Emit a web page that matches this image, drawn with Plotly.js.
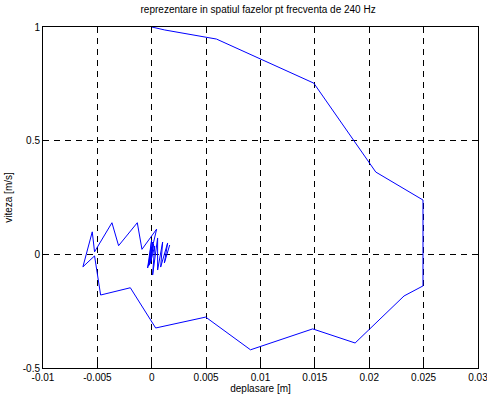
<!DOCTYPE html>
<html>
<head>
<script src="https://cdn.plot.ly/plotly-3.0.1.min.js"></script>
<style>html,body{margin:0;padding:0;background:#fff;}#chart{width:487px;height:396px;}</style>
</head>
<body>
<div id="chart"></div>
<script>
// phase-space trajectory: displacement [m] and velocity [m/s]
const deplasare = [0.0000, 0.00119, 0.00595, 0.0149, 0.0206, 0.02494, 0.02494, 0.0232, 0.0187, 0.0148, 0.00908, 0.00496, 0.00036, -0.00197, -0.0047, -0.00526, -0.00633, -0.00547, -0.00526, -0.00366, -0.00305, -0.00133, -0.0009, 0.00045,
  -0.00038, -0.00001, -0.00033, 0.00003, -0.00029, 0.00008, -0.00024, 0.00011, -0.00019, 0.00017, -0.00014, 0.00020, -0.0001, 0.00027, 0.00008, 0.00054, 0.00054, 0.0010, 0.00082, 0.00146, 0.00116, 0.00165];
const viteza = [1.000, 0.987, 0.947, 0.753, 0.362, 0.239, -0.139, -0.183, -0.390, -0.328, -0.420, -0.276, -0.324, -0.147, -0.179, -0.007, -0.055, 0.099, 0.011, 0.139, 0.038, 0.139, 0.022, 0.111,
  -0.060, 0.063, -0.057, 0.060, -0.051, 0.054, -0.047, 0.050, -0.043, 0.045, -0.040, 0.042, -0.034, 0.037, -0.091, 0.072, -0.069, 0.054, -0.056, 0.050, -0.038, 0.041];
const xTicks = [-0.01, -0.005, 0, 0.005, 0.01, 0.015, 0.02, 0.025, 0.03];
const xTickText = ['-0.01', '-0.005', '0', '0.005', '0.01', '0.015', '0.02', '0.025', '0.03'];
const yTicks = [-0.5, 0, 0.5, 1];
const yTickText = ['-0.5', '0', '0.5', '1'];

const font = {family: 'Liberation Sans, Arial, sans-serif', size: 10, color: '#000'};
const axisCommon = {
  showline: true, linecolor: '#000', linewidth: 1, mirror: 'ticks',
  ticks: 'inside', ticklen: 5, tickcolor: '#000', tickwidth: 1,
  showgrid: true, gridcolor: '#000', gridwidth: 1, griddash: '6px,5px',
  zeroline: false, tickfont: font, tickmode: 'array', ticklabeloverflow: 'allow'
};
Plotly.newPlot('chart', [{
  x: deplasare, y: viteza, type: 'scatter', mode: 'lines',
  line: {color: 'rgb(0,0,255)', width: 1}, hoverinfo: 'skip'
}], {
  width: 487, height: 396,
  margin: {l: 43, r: 9, t: 27, b: 28},
  paper_bgcolor: '#fff', plot_bgcolor: '#fff',
  showlegend: false,
  font: font,
  title: {text: 'reprezentare in spatiul fazelor pt frecventa de 240 Hz', font: {family: font.family, size: 10, color: '#000'}, x: 0.53, xanchor: 'center', y: 0.975, yanchor: 'middle'},
  xaxis: Object.assign({}, axisCommon, {range: [-0.01, 0.03], tickvals: xTicks, ticktext: xTickText,
    title: {text: 'deplasare [m]', font: font, standoff: 2}}),
  yaxis: Object.assign({}, axisCommon, {range: [-0.5, 1], tickvals: yTicks, ticktext: yTickText,
    title: {text: 'viteza [m/s]', font: font, standoff: 8}})
}, {displayModeBar: false, staticPlot: true});
</script>
</body>
</html>
